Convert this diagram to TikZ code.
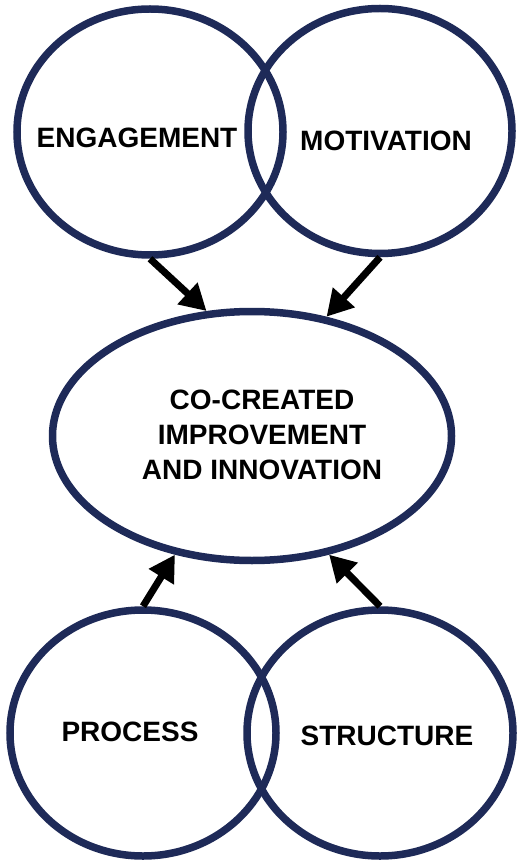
\documentclass[tikz,border=0pt]{standalone}
\usepackage{fontspec}
\setmainfont{Liberation Sans}
\usetikzlibrary{shapes.geometric,arrows.meta}
\definecolor{navy}{RGB}{30,42,88}
\begin{document}
\begin{tikzpicture}[x=1pt,y=-1pt,
 ring/.style={ellipse,draw=navy,line width=7.5pt,inner sep=0pt},
 lbl/.style={font=\fontsize{28}{35}\selectfont\bfseries,align=center,inner sep=0pt},
 arr/.style={line width=7pt,-{Triangle[length=26pt,width=28pt]}}]
\useasboundingbox (0,0) rectangle (520,866);
\node[ring,minimum width=266pt,minimum height=246pt] (eng) at (150,132) {};
\node[ring,minimum width=264pt,minimum height=245pt] (mot) at (380,131) {};
\node[ring,minimum width=399pt,minimum height=249pt] (cc) at (252,436) {};
\node[ring,minimum width=266pt,minimum height=246pt] (pro) at (143,733) {};
\node[ring,minimum width=266pt,minimum height=246pt] (str) at (380,733) {};
\node[lbl] (engt) at (137,138) {ENGAGEMENT};
\node[lbl] (mott) at (386,141) {MOTIVATION};
\node[lbl] (cct) at (262,435) {CO-CREATED\\IMPROVEMENT\\AND INNOVATION};
\node[lbl] (prot) at (130,732) {PROCESS};
\node[lbl] (strt) at (387,736) {STRUCTURE};
\draw[arr] (eng.-90) -- (cc.110);
\draw[arr] (mot.-90) -- (cc.58.5);
\draw[arr] (pro.90) -- (cc.-123);
\draw[arr] (str.90) -- (cc.-57.8);
\end{tikzpicture}
\end{document}
